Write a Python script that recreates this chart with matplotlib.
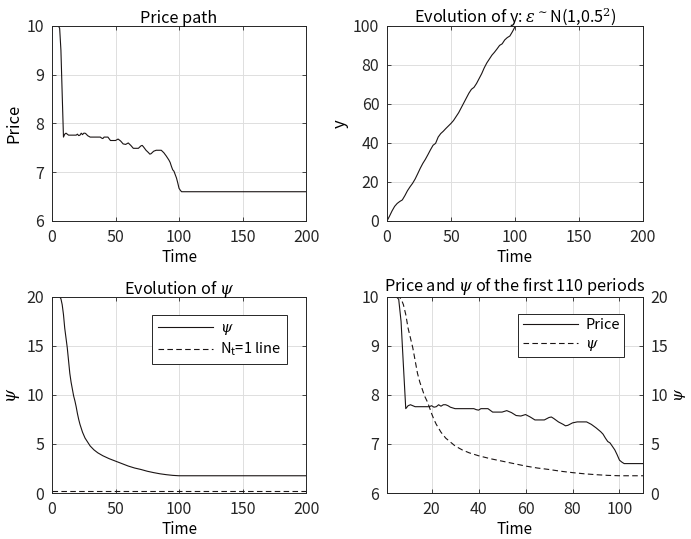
import matplotlib
matplotlib.use("Agg")
import matplotlib.pyplot as plt
import numpy as np

plt.rcParams['font.family'] = ['Noto Sans CJK JP', 'DejaVu Sans']
plt.rcParams['mathtext.fontset'] = 'dejavuserif'

# price path (time, price)
price_t = [1, 5, 6, 7, 8, 9, 10, 11, 12, 13, 16, 19, 20, 21, 22, 23, 24, 25, 26, 27,
           28, 30, 38, 39, 40, 41, 44, 46, 50, 52, 54, 56, 58, 60, 62, 64, 68, 70,
           71, 72, 74, 76, 77, 78, 80, 82, 86, 88, 90, 92, 93, 94, 95, 96, 97, 98,
           99, 100, 101, 102, 200]
price_v = [10.0, 10.0, 9.95, 9.5, 8.6, 7.72, 7.78, 7.8, 7.78, 7.76, 7.76, 7.76, 7.78,
           7.75, 7.76, 7.8, 7.77, 7.8, 7.8, 7.78, 7.75, 7.72, 7.72, 7.70, 7.69, 7.72,
           7.72, 7.65, 7.65, 7.68, 7.64, 7.58, 7.57, 7.6, 7.55, 7.49, 7.49, 7.54,
           7.55, 7.52, 7.45, 7.4, 7.37, 7.38, 7.43, 7.45, 7.45, 7.4, 7.33, 7.25,
           7.2, 7.12, 7.05, 7.02, 6.95, 6.88, 6.78, 6.67, 6.63, 6.6, 6.6]

# evolution of y
y_t = [0, 2, 4, 6, 8, 10, 12, 14, 16, 18, 20, 22, 24, 26, 28, 30, 32, 34, 36, 38,
       40, 42, 44, 46, 48, 50, 52, 54, 56, 58, 60, 62, 64, 66, 68, 70, 72, 74, 76,
       78, 80, 82, 84, 86, 88, 90, 92, 94, 96, 98, 100, 102]
y_v = [0, 2.5, 5.2, 7.5, 9.0, 10.0, 10.8, 13.0, 15.5, 17.5, 19.3, 21.5, 24.2, 27.0,
       29.5, 31.6, 34.0, 36.5, 38.8, 39.8, 43.0, 44.8, 46.0, 47.4, 48.7, 50.0, 51.5,
       53.5, 55.5, 58.0, 60.5, 63.0, 65.5, 67.5, 68.5, 70.5, 73.0, 75.5, 78.5, 81.0,
       83.0, 85.0, 86.5, 88.2, 90.0, 90.8, 92.8, 94.0, 94.8, 97.0, 99.5, 101.5]

# evolution of psi
psi_t = [1, 6, 7, 8, 9, 10, 11, 12, 13, 14, 15, 16, 17, 18, 19, 20, 21, 22, 24, 26,
         28, 30, 33, 36, 40, 45, 50, 55, 60, 65, 70, 75, 80, 85, 90, 95, 100, 200]
psi_v = [20, 20, 19.8, 19.2, 18.2, 16.8, 15.8, 14.8, 13.5, 12.2, 11.3, 10.6, 9.9, 9.4,
         8.8, 8.1, 7.5, 7.0, 6.2, 5.6, 5.2, 4.8, 4.4, 4.1, 3.8, 3.5, 3.25, 3.0, 2.75,
         2.55, 2.4, 2.22, 2.08, 1.96, 1.87, 1.8, 1.76, 1.76]
nt1_t = [0, 200]
nt1_v = [0.2, 0.2]

edge = '#262626'
gridc = '#dedede'
lc = '#1a1414'
fs_tick = 11.5
fs_title = 11.7
fs_lab = 11
fs_leg = 10.5


def style(ax, right_ticks=True):
    ax.grid(True, color=gridc, linewidth=0.7)
    ax.set_axisbelow(True)
    for s in ax.spines.values():
        s.set_color(edge)
        s.set_linewidth(0.7)
    ax.tick_params(direction='in', length=3, width=0.6, colors=edge, labelsize=fs_tick,
                   top=True, right=right_ticks, pad=5.5)


def labels(ax, title, ylab=None):
    ax.set_title(title, fontsize=fs_title, pad=2)
    ax.set_xlabel('Time', fontsize=fs_lab, labelpad=2.5)
    if ylab:
        ax.set_ylabel(ylab, fontsize=fs_lab + 1, labelpad=3)


fig = plt.figure(figsize=(6.91, 5.39), dpi=100)
ax1 = fig.add_axes([0.0753, 0.590, 0.3676, 0.362])
ax2 = fig.add_axes([0.560, 0.590, 0.3705, 0.362])
ax3 = fig.add_axes([0.0753, 0.0853, 0.3676, 0.364])
ax4 = fig.add_axes([0.560, 0.0853, 0.3705, 0.364])

# price path
ax1.plot(price_t, price_v, color=lc, lw=0.8)
ax1.set_xlim(0, 200)
ax1.set_ylim(6, 10)
ax1.set_xticks([0, 50, 100, 150, 200])
ax1.set_yticks([6, 7, 8, 9, 10])
style(ax1)
labels(ax1, 'Price path', 'Price')

# y
ax2.plot(y_t, y_v, color=lc, lw=0.8)
ax2.set_xlim(0, 200)
ax2.set_ylim(0, 100)
ax2.set_xticks([0, 50, 100, 150, 200])
ax2.set_yticks([0, 20, 40, 60, 80, 100])
style(ax2)
labels(ax2, r'Evolution of y: $\epsilon^{\sim}$N(1,0.5$^2$)', 'y')

# psi
ax3.plot(psi_t, psi_v, color=lc, lw=0.8, label=r'$\psi$')
ax3.plot(nt1_t, nt1_v, color=lc, lw=0.8, ls=(0, (5, 3)), label='N$_\\mathregular{t}$=1 line')
ax3.set_xlim(0, 200)
ax3.set_ylim(0, 20)
ax3.set_xticks([0, 50, 100, 150, 200])
ax3.set_yticks([0, 5, 10, 15, 20])
style(ax3)
labels(ax3, r'Evolution of $\psi$', r'$\psi$')
leg = ax3.legend(loc='upper right', bbox_to_anchor=(0.926, 0.908), borderaxespad=0,
                 fancybox=False, framealpha=1, edgecolor=edge, fontsize=fs_leg,
                 handlelength=3.8, handletextpad=0.5, borderpad=0.4, labelspacing=0.3)
leg.get_frame().set_linewidth(0.7)

# first 110 periods
l1, = ax4.plot(price_t, price_v, color=lc, lw=0.8, label='Price')
ax4.set_xlim(1, 110)
ax4.set_ylim(6, 10)
ax4.set_xticks([20, 40, 60, 80, 100])
ax4.set_yticks([6, 7, 8, 9, 10])
style(ax4, right_ticks=False)
labels(ax4, r'Price and $\psi$ of the first 110 periods')
ax4b = ax4.twinx()
l2, = ax4b.plot(psi_t, psi_v, color=lc, lw=0.8, ls=(0, (5, 3)), label=r'$\psi$')
ax4b.set_ylim(0, 20)
ax4b.set_yticks([0, 5, 10, 15, 20])
ax4b.set_ylabel(r'$\psi$', fontsize=fs_lab, labelpad=2)
for s in ax4b.spines.values():
    s.set_color(edge)
    s.set_linewidth(0.7)
ax4b.tick_params(direction='in', length=3, width=0.6, colors=edge, labelsize=fs_tick, pad=5.5)
leg2 = ax4b.legend(handles=[l1, l2], loc='upper right', bbox_to_anchor=(0.927, 0.912),
                   borderaxespad=0, fancybox=False, framealpha=1, edgecolor=edge,
                   fontsize=fs_leg, handlelength=3.8, handletextpad=0.5, borderpad=0.3,
                   labelspacing=0.3)
leg2.get_frame().set_linewidth(0.7)

fig.savefig('out.png', dpi=100)
